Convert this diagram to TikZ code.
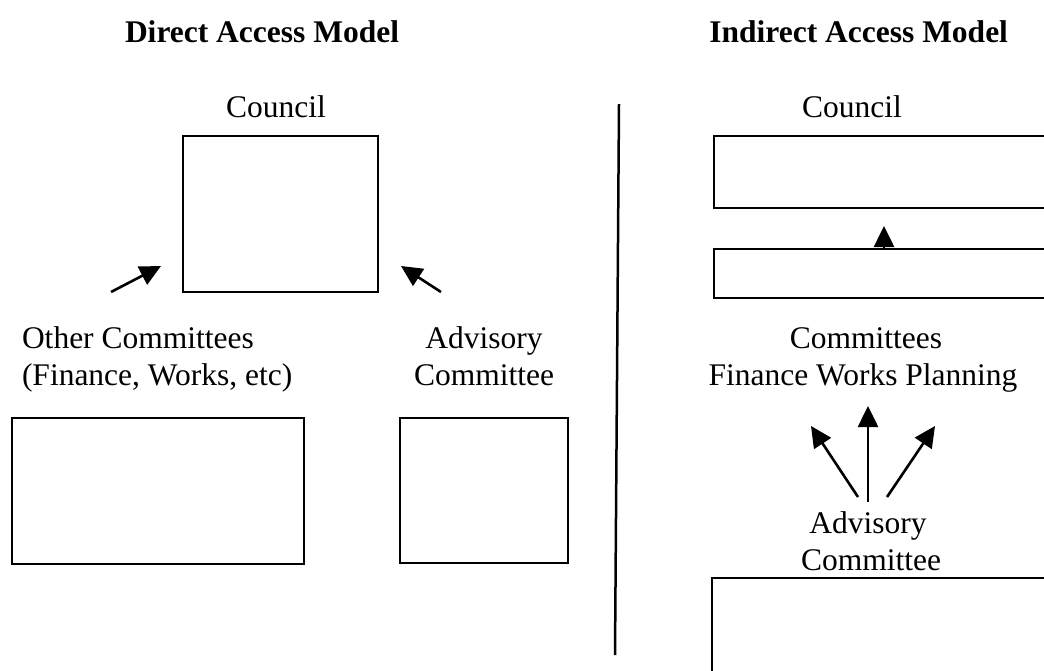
\documentclass[tikz,border=0pt]{standalone}
\usepackage{fontspec}
\setmainfont{Liberation Serif}
\usetikzlibrary{arrows.meta}
\begin{document}
\begin{tikzpicture}[x=1pt,y=-1pt,
  every node/.style={inner sep=0pt,outer sep=0pt,font=\fontsize{31.5}{37}\selectfont},
  title/.style={font=\fontsize{31.5}{37}\selectfont\bfseries},
  boxnode/.style={draw,line width=2.5pt},
  conn/.style={line width=2.6pt,-{Triangle[length=21pt,width=20pt]}}]
\useasboundingbox (0,0) rectangle (1044,670);
\fill[white] (0,0) rectangle (1044,670);
\clip (0,0) rectangle (1044,670);
% titles
\node[title,anchor=base west] (tl) at (125,42) {Direct Access Model};
\node[title,anchor=base east] (tr) at (1008,42) {Indirect Access Model};
% left: direct model
\node[anchor=base] (cl) at (276,117) {Council};
\node[boxnode,minimum width=195pt,minimum height=156pt] (cbox) at (280.5,214) {};
\coordinate (la1) at (111,292);
\coordinate (la2) at (161,266);
\coordinate (ra1) at (441,292);
\coordinate (ra2) at (401,266);
\draw[conn] (la1) -- (la2);
\draw[conn] (ra1) -- (ra2);
\node[anchor=base west] (oc1) at (22,348) {Other Committees};
\node[anchor=base west] (oc2) at (22,385) {(Finance, Works, etc)};
\node[anchor=base] (ac1) at (484,348) {Advisory};
\node[anchor=base] (ac2) at (484,385) {Committee};
\node[boxnode,minimum width=292pt,minimum height=146pt] (obox) at (158,491) {};
\node[boxnode,minimum width=168pt,minimum height=145pt] (abox) at (484,490.5) {};
% divider
\coordinate (dtop) at (619,104);
\coordinate (dbot) at (615,655);
\draw[line width=2.5pt] (dtop) -- (dbot);
% right: indirect model
\node[anchor=base] (cr) at (852,117) {Council};
\node[boxnode,minimum width=346pt,minimum height=72pt] (rbox1) at (887,172) {};
\node[boxnode,minimum width=346pt,minimum height=49pt] (rbox2) at (887,273.5) {};
\coordinate (up1) at (884,249);
\coordinate (up2) at (884,226);
\draw[conn] (up1) -- (up2);
\node[anchor=base] (cm1) at (866,348) {Committees};
\node[anchor=base] (cm2) at (863,385) {Finance Works Planning};
\coordinate (s0) at (868,502);
\coordinate (s1) at (858,497);
\coordinate (s2) at (887,497);
\coordinate (e0) at (868,406);
\coordinate (e1) at (811,426);
\coordinate (e2) at (935,426);
\draw[conn] (s1) -- (e1);
\draw[conn] (s0) -- (e0);
\draw[conn] (s2) -- (e2);
\node[anchor=base] (ad1) at (868,533) {Advisory};
\node[anchor=base] (ad2) at (871,570) {Committee};
\node[boxnode,minimum width=348pt,minimum height=130pt] (rbox3) at (886,643) {};
\end{tikzpicture}
\end{document}
